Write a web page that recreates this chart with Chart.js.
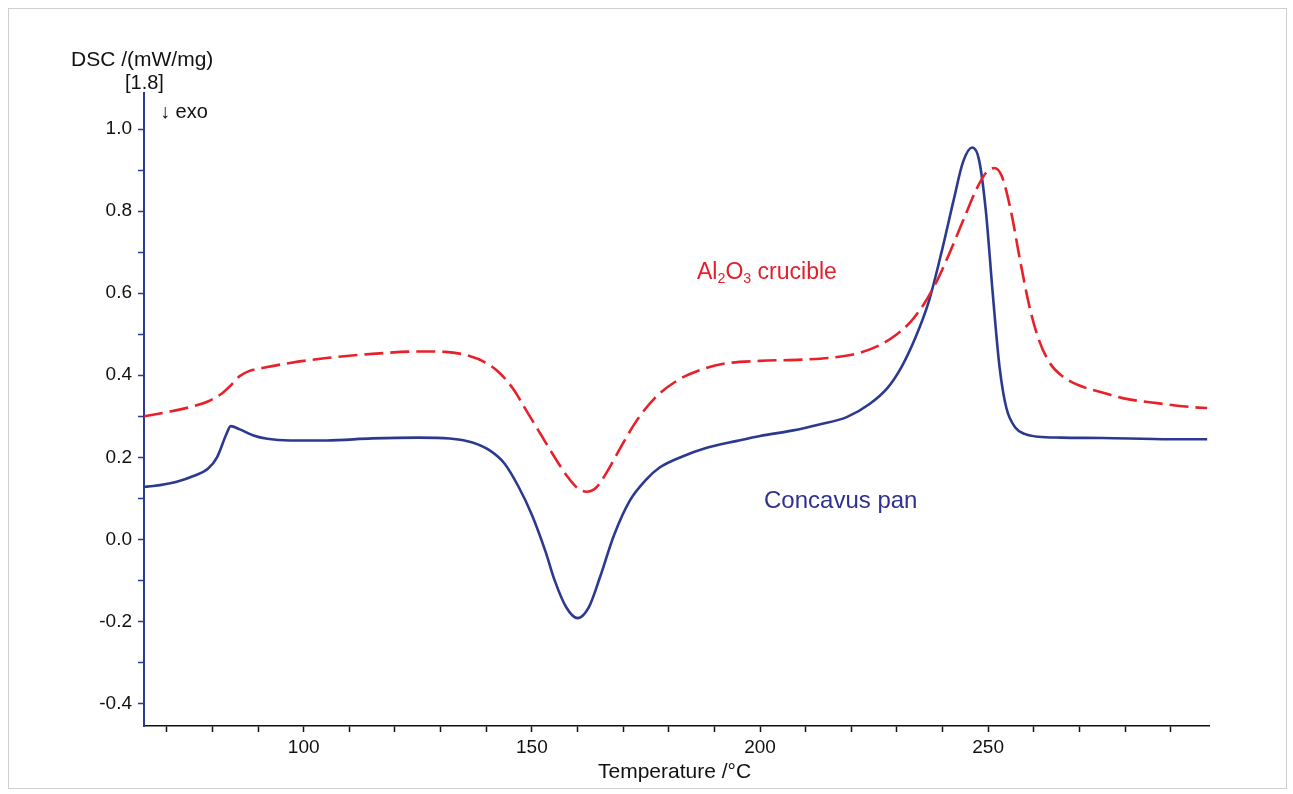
<!DOCTYPE html>
<html>
<head>
<meta charset="utf-8">
<script src="https://cdn.jsdelivr.net/npm/chart.js@4.4.0/dist/chart.umd.min.js"></script>
<style>
    body { margin: 0; background: #fff; font-family: "Liberation Sans", Arial, sans-serif; }
    #wrap { position: relative; width: 1293px; height: 794px; }
    #frame { position: absolute; left: 8px; top: 8px; width: 1277px; height: 779px; border: 1px solid #cfcfcf; }
    canvas { position: absolute; left: 0; top: 0; }
    .lbl { position: absolute; white-space: nowrap; line-height: 1; }
    .lbl sub { font-size: 0.62em; vertical-align: -0.25em; line-height: 0; }
</style>
</head>
<body>
<div id="wrap">
    <div id="frame"></div>
    <canvas id="dsc-chart" width="1293" height="794"></canvas>
    <div class="lbl" style="left:71px; top:48px; font-size:21px; color:#111;">DSC /(mW/mg)</div>
    <div class="lbl" style="left:125px; top:72px; font-size:20px; color:#111;">[1.8]</div>
    <div class="lbl" style="left:160px; top:101px; font-size:20px; color:#111;">↓ exo</div>
    <div class="lbl" style="left:598px; top:760px; font-size:21px; color:#111;">Temperature /°C</div>
    <div class="lbl" style="left:697px; top:260px; font-size:23px; color:#e41e2b;">Al<sub>2</sub>O<sub>3</sub> crucible</div>
    <div class="lbl" style="left:764px; top:488px; font-size:24px; color:#2e3192;">Concavus pan</div>
</div>
<script>
// Données
const concavusT = [65, 67, 72, 76, 79, 81, 83, 84, 86, 89, 92, 97, 105, 115, 125, 132, 137, 141, 144, 147, 150, 153, 155, 157.5, 160, 162.5, 165, 168, 171.5, 175, 178, 183, 188, 195, 200, 207, 213, 219, 224, 228, 231, 234, 237, 240, 242.5, 244.5, 246.5, 248, 249.5, 251, 252.5, 254, 256, 258, 261, 266, 275, 290, 298];
const concavusDSC = [0.128, 0.13, 0.14, 0.155, 0.172, 0.2, 0.255, 0.276, 0.268, 0.253, 0.245, 0.241, 0.241, 0.246, 0.248, 0.246, 0.236, 0.215, 0.185, 0.13, 0.06, -0.03, -0.1, -0.165, -0.192, -0.165, -0.09, 0.01, 0.095, 0.145, 0.175, 0.202, 0.222, 0.24, 0.252, 0.265, 0.28, 0.298, 0.33, 0.37, 0.42, 0.49, 0.58, 0.71, 0.83, 0.92, 0.955, 0.925, 0.80, 0.60, 0.42, 0.32, 0.272, 0.257, 0.25, 0.248, 0.247, 0.244, 0.244];

const aluminaT = [65, 70, 75, 79, 82, 84, 86, 88, 92, 97, 105, 115, 125, 131, 136, 140, 143, 146, 149, 152, 155, 158, 160, 162, 164, 166.5, 169.5, 173, 177, 182, 187, 192, 200, 209, 216, 221, 226, 230, 233, 236, 239, 242, 245, 247.5, 249.5, 251.3, 253, 255, 257, 259, 261, 263.5, 266, 270, 275, 280, 287, 295, 298];
const aluminaDSC = [0.30, 0.31, 0.322, 0.336, 0.355, 0.375, 0.398, 0.41, 0.42, 0.43, 0.442, 0.452, 0.458, 0.457, 0.448, 0.43, 0.405, 0.365, 0.31, 0.255, 0.2, 0.15, 0.125, 0.116, 0.125, 0.165, 0.225, 0.29, 0.345, 0.388, 0.413, 0.428, 0.435, 0.438, 0.443, 0.452, 0.472, 0.5, 0.53, 0.575, 0.635, 0.71, 0.79, 0.855, 0.893, 0.905, 0.885, 0.8, 0.68, 0.57, 0.49, 0.43, 0.40, 0.375, 0.358, 0.343, 0.332, 0.322, 0.32];

const xMin = 65, xMax = 298.4, xStep = 10, xLabelEvery = 50;
const yMin = -0.455, yMax = 1.088, yStep = 0.1;

function toPoints(xs, ys) {
    return xs.map(function(x, i) { return { x: x, y: ys[i] }; });
}

function isMultiple(v, step) {
    const r = v / step;
    return Math.abs(r - Math.round(r)) < 1e-6;
}

const tickFont = { family: '"Liberation Sans", Arial, sans-serif', size: 19 };

const ctx = document.getElementById('dsc-chart').getContext('2d');
const dscChart = new Chart(ctx, {
    type: 'line',
    data: {
        datasets: [{
            label: 'Al2O3 crucible',
            data: toPoints(aluminaT, aluminaDSC),
            borderColor: '#e8202a',
            borderWidth: 2.6,
            borderDash: [19, 7],
            pointRadius: 0,
            cubicInterpolationMode: 'monotone',
            fill: false
        }, {
            label: 'Concavus pan',
            data: toPoints(concavusT, concavusDSC),
            borderColor: '#2b3990',
            borderWidth: 2.6,
            pointRadius: 0,
            cubicInterpolationMode: 'monotone',
            fill: false
        }]
    },
    options: {
        responsive: false,
        animation: false,
        layout: { padding: { left: 0, right: 84, top: 93, bottom: 0 } },
        plugins: {
            legend: { display: false },
            tooltip: { enabled: false }
        },
        scales: {
            x: {
                type: 'linear',
                min: xMin,
                max: xMax,
                afterFit: function(scale) { scale.height = 68; },
                border: { color: '#111', width: 1.5 },
                grid: {
                    drawOnChartArea: false,
                    tickLength: 6,
                    tickWidth: 1.5,
                    tickColor: function(c) {
                        return (c.tick && isMultiple(c.tick.value, xStep)) ? '#111' : 'rgba(0,0,0,0)';
                    }
                },
                ticks: {
                    stepSize: xStep,
                    includeBounds: false,
                    autoSkip: false,
                    maxRotation: 0,
                    padding: 4,
                    color: '#111',
                    font: tickFont,
                    callback: function(v) {
                        return isMultiple(v, xLabelEvery) ? String(Math.round(v)) : '';
                    }
                }
            },
            y: {
                min: yMin,
                max: yMax,
                afterFit: function(scale) { scale.width = 144; },
                border: { color: '#2b3990', width: 2 },
                grid: {
                    drawOnChartArea: false,
                    tickLength: 6,
                    tickWidth: 1.5,
                    tickColor: function(c) {
                        return (c.tick && isMultiple(c.tick.value, yStep)) ? '#2b3990' : 'rgba(0,0,0,0)';
                    }
                },
                ticks: {
                    stepSize: yStep,
                    includeBounds: false,
                    autoSkip: false,
                    padding: 6,
                    color: '#111',
                    font: tickFont,
                    callback: function(v) {
                        const k = Math.round(v * 10);
                        if (!isMultiple(v, yStep) || k % 2 !== 0) return '';
                        return (k / 10).toFixed(1);
                    }
                }
            }
        }
    }
});
</script>
</body>
</html>
